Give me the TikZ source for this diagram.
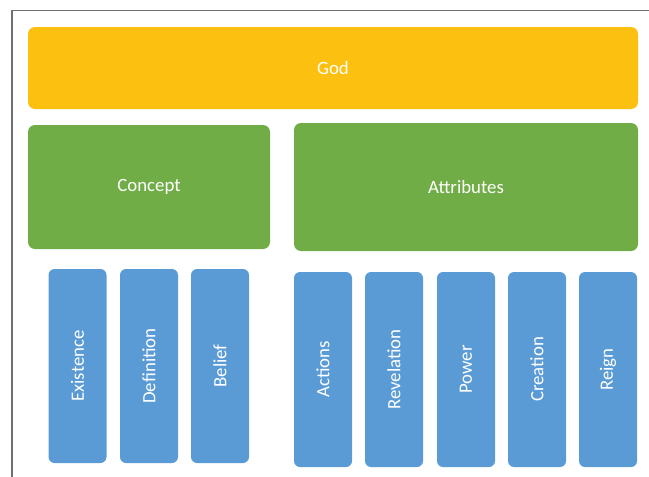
\documentclass[tikz,border=0pt]{standalone}
\usepackage{fontspec}
\setmainfont{Carlito}
\definecolor{godc}{HTML}{FCC010}
\definecolor{greenc}{HTML}{70AD47}
\definecolor{bluec}{HTML}{5B9BD5}
\definecolor{framec}{HTML}{707070}
\tikzset{
  boxbase/.style={rectangle, rounded corners=7pt, text=white, inner sep=0pt,
    font=\fontsize{18.8}{22}\selectfont},
  godbox/.style={boxbase, fill=godc, minimum width=610pt, minimum height=82pt},
  greenbox/.style={boxbase, fill=greenc},
  bluebox/.style={boxbase, fill=bluec, rounded corners=6pt, minimum width=58pt},
}
\begin{document}
\begin{tikzpicture}[x=1pt,y=-1pt]
\useasboundingbox (0,0) rectangle (649,477);
\draw[framec, line width=1.3pt] (12,477) -- (12,10.5) -- (649,10.5);
\node[godbox] (god) at (333,68) {God};
\node[greenbox, minimum width=242pt, minimum height=124pt] (concept) at (149,187) {Concept};
\node[greenbox, minimum width=344pt, minimum height=128pt] (attr) at (466,187) {Attributes};
\foreach \xc/\yc/\h/\t/\n in {77.5/366/194/Existence/b1, 149/366/194/Definition/b2, 220/366/194/Belief/b3, 323/369.5/195/Actions/b4, 394/369.5/195/Revelation/b5, 466/369.5/195/Power/b6, 537/369.5/195/Creation/b7, 608/369.5/195/Reign/b8}{
  \node[bluebox, minimum height=\h pt] (\n) at (\xc,\yc) {\rotatebox{90}{\t}};
}
\end{tikzpicture}
\end{document}
